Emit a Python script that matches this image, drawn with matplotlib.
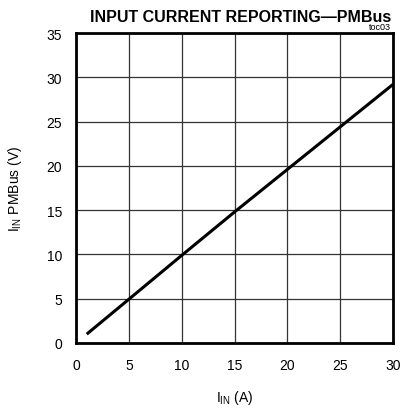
import matplotlib
matplotlib.use('Agg')
import matplotlib.pyplot as plt

plt.rcParams['font.family'] = ['Liberation Sans', 'DejaVu Sans']
plt.rcParams['mathtext.fontset'] = 'custom'
plt.rcParams['mathtext.rm'] = 'Liberation Sans'

# input current vs PMBus reported value
i_in = [1, 5, 10, 15, 20, 25, 30]
pmbus = [1.0, 4.95, 9.9, 14.8, 19.6, 24.4, 29.2]

x_ticks = [0, 5, 10, 15, 20, 25, 30]
y_ticks = [0, 5, 10, 15, 20, 25, 30, 35]

fig = plt.figure(figsize=(4.01, 4.10), dpi=100)
ax = fig.add_axes([0.19, 0.161, 0.79, 0.756])

ax.plot(i_in, pmbus, color='black', linewidth=2.2, solid_capstyle='butt')

ax.set_xlim(0, 30)
ax.set_ylim(0, 35)
ax.set_xticks(x_ticks)
ax.set_yticks(y_ticks)
ax.grid(True, color='#333333', linewidth=0.9)
ax.tick_params(axis='x', length=0, labelsize=10, pad=11)
ax.tick_params(axis='y', length=0, labelsize=10, pad=10)
for s in ax.spines.values():
    s.set_linewidth(2)

ax.set_xlabel('I$_{\\mathregular{IN}}$ (A)', fontsize=10, labelpad=11)
ax.set_ylabel('I$_{\\mathregular{IN}}$ PMBus (V)', fontsize=10, labelpad=16)

fig.text(0.6, 0.947, 'INPUT CURRENT REPORTING\u2014PMBus', ha='center',
         fontsize=11.5, fontweight='bold')
fig.text(0.975, 0.926, 'toc03', ha='right', fontsize=6.5)

fig.savefig('out.png', dpi=100)
